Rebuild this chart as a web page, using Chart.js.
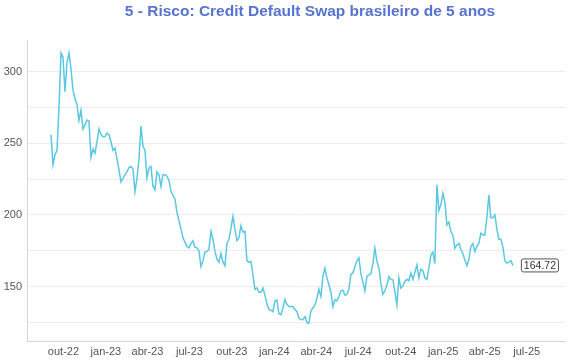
<!DOCTYPE html>
<html>
<head>
<meta charset="utf-8">
<script src="https://cdn.jsdelivr.net/npm/chart.js@4.4.1/dist/chart.umd.min.js"></script>
<style>
  html, body { margin: 0; padding: 0; background: #fff; }
</style>
</head>
<body>
<canvas id="myChart" width="570" height="360"></canvas>
<script>
const titleText = '5 - Risco: Credit Default Swap brasileiro de 5 anos';

// first and last observation, the points in between are evenly spaced in time
const firstDate = '2022-09-04';
const lastDate = '2025-06-01';

// CDS 5 anos (pontos-base)
const cds = [
  255.8, 235, 242, 245, 275, 313, 310, 286, 306, 313,
  302, 287, 281, 277, 266, 273, 260, 263, 266, 265.6,
  240, 246, 243, 251, 260, 256, 254.5, 254.6, 257, 256,
  251, 245, 246.5, 239, 231.4, 223, 225.5, 228, 230, 233,
  233.7, 232, 216.3, 225.5, 239, 262, 248, 245,
  226, 232.6, 233.8, 220, 217.5, 230, 228, 219.8, 228, 228,
  227, 224, 216.5, 213.5, 211, 201.5, 196, 190, 184, 181,
  178, 177, 180, 182, 177.5, 177, 175, 164, 168, 174,
  174.5, 176, 188.5, 183, 174.5, 169, 167, 173, 167, 164.5,
  180, 183, 190.5, 199, 190, 182, 184,
  192.4, 188, 188.4, 168, 167, 167.5, 158, 148, 149, 146,
  146, 149, 144, 138, 134, 133.5, 132.5, 140, 140.6, 131,
  130.3, 135, 141, 137.5, 136, 136, 136, 134, 132.6, 128,
  126.8, 127, 129, 125, 124.4, 133, 135, 137, 142, 148,
  143, 157, 162.8, 156, 151.2, 146, 136,
  140.7, 140, 143, 147, 147.5, 144, 144.5, 148, 158.5, 159.5,
  164, 168, 170, 159, 153, 147, 157, 158, 159, 166,
  176.8, 167.5, 163, 152, 144.5, 147, 151, 157, 155, 154.7,
  146.5, 137, 156, 148.9, 150.5, 153.5, 155, 154, 159.5, 155,
  160, 165, 156, 162, 161, 156, 155,
  162.8, 172, 174, 166, 221, 203, 207, 215, 209, 193,
  195, 188.4, 186, 176.7, 179, 180, 176, 173, 168.5, 164.6,
  169, 177.9, 180, 174.4, 178, 180, 187.2, 186, 186, 198,
  213.9, 198, 198, 200, 190, 183, 183, 177.9, 168, 166.3,
  167, 168, 164.72
];

const tickDates = ['2022-10-01', '2023-01-01', '2023-04-01', '2023-07-01', '2023-10-01', '2024-01-01',
  '2024-04-01', '2024-07-01', '2024-10-01', '2025-01-01', '2025-04-01', '2025-07-01'];
const tickLabels = ['out-22', 'jan-23', 'abr-23', 'jul-23', 'out-23', 'jan-24',
  'abr-24', 'jul-24', 'out-24', 'jan-25', 'abr-25', 'jul-25'];
const yTicks = [125, 150, 175, 200, 225, 250, 275, 300];

function dayNum(s) {
  const p = s.split('-').map(Number);
  return Date.UTC(p[0], p[1] - 1, p[2]) / 864e5;
}

const d0 = dayNum(firstDate);
const d1 = dayNum(lastDate);
const points = cds.map((v, i) => ({ x: d0 + i * (d1 - d0) / (cds.length - 1), y: v }));
const tickDays = tickDates.map(dayNum);

Chart.defaults.font.family = '"Liberation Sans", Arial, Helvetica, sans-serif';

const titlePlugin = {
  id: 'titleText',
  afterDraw(chart) {
    const ctx = chart.ctx;
    ctx.save();
    ctx.font = 'bold 15.5px "Liberation Sans", Arial, sans-serif';
    ctx.fillStyle = '#5673d1';
    ctx.textAlign = 'center';
    ctx.textBaseline = 'alphabetic';
    ctx.fillText(titleText, 310, 15.7);
    ctx.restore();
  }
};

const lastValuePlugin = {
  id: 'lastValue',
  afterDatasetsDraw(chart) {
    const meta = chart.getDatasetMeta(0);
    const pt = meta.data[meta.data.length - 1];
    const txt = cds[cds.length - 1].toFixed(2);
    const ctx = chart.ctx;
    ctx.save();
    ctx.font = '10.5px "Liberation Sans", Arial, sans-serif';
    const w = ctx.measureText(txt).width + 5;
    const h = 13;
    const bx = pt.x + 8.5, by = pt.y - h / 2;
    ctx.beginPath();
    ctx.roundRect(bx, by, w, h, 2);
    ctx.fillStyle = '#fff';
    ctx.fill();
    ctx.strokeStyle = '#555';
    ctx.lineWidth = 1;
    ctx.stroke();
    ctx.fillStyle = '#333';
    ctx.textAlign = 'center';
    ctx.textBaseline = 'middle';
    ctx.fillText(txt, bx + w / 2, by + h / 2 + 0.5);
    ctx.restore();
  }
};

const ctx = document.getElementById('myChart');
new Chart(ctx, {
  type: 'line',
  data: {
    datasets: [{
      data: points,
      borderColor: '#5bc8e3',
      borderWidth: 1.5,
      pointRadius: 0,
      tension: 0,
      fill: false
    }]
  },
  options: {
    responsive: false,
    animation: false,
    layout: { padding: { top: 40, right: 5, left: 0, bottom: 0 } },
    plugins: {
      legend: { display: false },
      tooltip: { enabled: false },
      title: { display: false }
    },
    scales: {
      x: {
        type: 'linear',
        min: dayNum('2022-07-14'),
        max: dayNum('2025-09-22'),
        grid: { display: false, drawTicks: false },
        border: { display: true, color: '#d6d6d6' },
        afterBuildTicks: s => { s.ticks = tickDays.map(v => ({ value: v })); },
        afterFit: s => { s.height = 19; },
        ticks: {
          autoSkip: false,
          maxRotation: 0,
          padding: 4,
          color: '#555',
          font: { size: 11 },
          callback: (v, i) => tickLabels[i]
        }
      },
      y: {
        min: 112,
        max: 322,
        afterBuildTicks: s => { s.ticks = yTicks.map(v => ({ value: v })); },
        afterFit: s => { s.width = 27; },
        grid: { color: '#ececec', drawTicks: false },
        border: { display: true, color: '#d6d6d6' },
        ticks: {
          padding: 5,
          color: '#555',
          font: { size: 11 },
          callback: v => (v % 50 === 0 ? v : '')
        }
      }
    }
  },
  plugins: [titlePlugin, lastValuePlugin]
});
</script>
</body>
</html>
